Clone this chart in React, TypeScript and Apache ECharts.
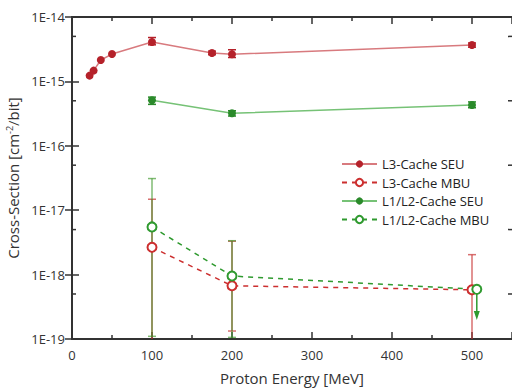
import React, { useEffect, useRef } from 'react';
import * as echarts from 'echarts';

const FONT = '"Open Sans", "DejaVu Sans", sans-serif';

// L3-Cache SEU
const l3SeuX = [22, 27, 36, 50, 100, 175, 200, 500];
const l3SeuY = [1.23e-15, 1.47e-15, 2.15e-15, 2.66e-15, 4.1e-15, 2.76e-15, 2.64e-15, 3.67e-15];
const l3SeuErrX = [100, 175, 200, 500];
const l3SeuErrLo = [3.7e-15, 2.6e-15, 2.35e-15, 3.4e-15];
const l3SeuErrHi = [4.8e-15, 2.95e-15, 3.1e-15, 3.95e-15];

// L3-Cache MBU
const l3MbuX = [100, 200, 500];
const l3MbuY = [2.65e-18, 6.7e-19, 5.8e-19];
const l3MbuErrLo = [5e-20, 1.33e-19, 5e-20];
const l3MbuErrHi = [1.48e-17, 3.3e-18, 2.04e-18];

// L1/L2-Cache SEU
const l12SeuX = [100, 200, 500];
const l12SeuY = [5.1e-16, 3.2e-16, 4.3e-16];
const l12SeuErrLo = [4.4e-16, 2.9e-16, 3.9e-16];
const l12SeuErrHi = [5.7e-16, 3.5e-16, 4.8e-16];

// L1/L2-Cache MBU
const l12MbuX = [100, 200, 506];
const l12MbuY = [5.5e-18, 9.5e-19, 5.9e-19];
const l12MbuErrX = [100, 200];
const l12MbuErrLo = [1.1e-19, 1.06e-19];
const l12MbuErrHi = [3.1e-17, 3.36e-18];
// upper-limit arrow at 506
const l12ArrowX = [506];
const l12ArrowFrom = [5.9e-19];
const l12ArrowTo = [1.97e-19];

const yMinorTicks = [5e-15, 5e-16, 5e-17, 5e-18, 5e-19];
const legendNames = ['L3-Cache SEU', 'L3-Cache MBU', 'L1/L2-Cache SEU', 'L1/L2-Cache MBU'];

const RED = '#b5212a';
const RED_LINE = '#d87a7e';
const RED_DASH = '#cc2f2f';
const GREEN = '#2a8a2a';
const GREEN_LINE = '#76c276';
const GREEN_DASH = '#2f9a2f';
const AXIS = '#333333';

function zip(xs: number[], ys: number[]) {
  return xs.map((x, i) => [x, ys[i]]);
}

function errSeries(name: string, xs: number[], lo: number[], hi: number[], color: string, cap = 4) {
  return {
    name,
    type: 'custom',
    silent: true,
    clip: true,
    z: 1,
    data: xs.map((x, i) => [x, lo[i], hi[i]]),
    encode: { x: 0, y: [1, 2] },
    renderItem: (params: any, api: any) => {
      const x = api.value(0);
      const cs = params.coordSys;
      const a = api.coord([x, api.value(2)]);
      const b = api.coord([x, api.value(1)]);
      const bottom = cs.y + cs.height;
      const style = { stroke: color, lineWidth: 1.5, fill: 'none' };
      const by = Math.min(b[1], bottom);
      const children: any[] = [
        { type: 'line', shape: { x1: a[0], y1: a[1], x2: b[0], y2: by }, style },
        { type: 'line', shape: { x1: a[0] - cap, y1: a[1], x2: a[0] + cap, y2: a[1] }, style },
      ];
      if (b[1] <= bottom) {
        children.push({ type: 'line', shape: { x1: b[0] - cap, y1: b[1], x2: b[0] + cap, y2: b[1] }, style });
      }
      return { type: 'group', children };
    },
  };
}

export default function App() {
  const ref = useRef<HTMLDivElement>(null);
  useEffect(() => {
    if (!ref.current) return;
    const chart = echarts.init(ref.current, null, { renderer: 'svg' });
    const axisLine = { show: true, lineStyle: { color: AXIS, width: 2 } };
    const xCommon = {
      type: 'value',
      min: 0,
      max: 550,
      interval: 100,
      axisLine,
      axisTick: { show: true, inside: true, length: 7, lineStyle: { color: AXIS, width: 1.5 } },
      minorTick: { show: true, splitNumber: 2, length: 4, lineStyle: { color: AXIS, width: 1.5 } },
      splitLine: { show: false },
      minorSplitLine: { show: false },
    };
    const yCommon = {
      type: 'log',
      logBase: 10,
      min: 1e-19,
      max: 1e-14,
      interval: 1,
      axisLine,
      axisTick: { show: true, inside: true, length: 7, lineStyle: { color: AXIS, width: 1.5 } },
      splitLine: { show: false },
    };
    const option: any = {
      animation: false,
      textStyle: { fontFamily: FONT },
      grid: { left: 72, right: 0, top: 17, bottom: 51, containLabel: false, outerBoundsMode: 'none' },
      xAxis: [
        {
          ...xCommon,
          position: 'bottom',
          axisLabel: {
            fontSize: 13,
            color: '#333',
            margin: 9,
            fontFamily: FONT,
            showMaxLabel: false,
            formatter: (v: number) => (v > 500 ? '' : String(v)),
          },
          name: 'Proton Energy [MeV]',
          nameLocation: 'middle',
          nameGap: 31,
          nameTextStyle: { fontSize: 15, color: '#333', fontFamily: FONT },
        },
        { ...xCommon, position: 'top', axisLabel: { show: false } },
      ],
      yAxis: [
        {
          ...yCommon,
          position: 'left',
          axisLabel: {
            fontSize: 13,
            color: '#333',
            margin: 7,
            fontFamily: FONT,
            formatter: (v: number) => '1E' + Math.round(Math.log10(v)),
          },
          name: '{t|Cross-Section [cm}{s|-2}{t|/bit]}',
          nameLocation: 'middle',
          nameGap: 46,
          nameTextStyle: {
            color: '#333',
            rich: {
              t: { fontSize: 15, color: '#333', fontFamily: FONT },
              s: { fontSize: 9, color: '#333', fontFamily: FONT, verticalAlign: 'top' },
            },
          },
        },
        { ...yCommon, position: 'right', axisLabel: { show: false } },
      ],
      legend: {
        data: legendNames,
        orient: 'vertical',
        left: 336,
        top: 152,
        itemWidth: 35,
        itemHeight: 9,
        itemGap: 4.5,
        textStyle: { fontSize: 13, color: '#222', fontFamily: FONT, lineHeight: 14 },
      },
      series: [
        errSeries('e1', l3SeuErrX, l3SeuErrLo, l3SeuErrHi, RED),
        errSeries('e2', l12SeuX, l12SeuErrLo, l12SeuErrHi, GREEN),
        errSeries('e3', l3MbuX, l3MbuErrLo, l3MbuErrHi, 'rgba(200,50,50,0.7)'),
        errSeries('e4', l12MbuErrX, l12MbuErrLo, l12MbuErrHi, 'rgba(60,150,40,0.65)'),
        {
          name: 'arrow',
          type: 'custom',
          silent: true,
          z: 1,
          data: l12ArrowX.map((x, i) => [x, l12ArrowFrom[i], l12ArrowTo[i]]),
          encode: { x: 0, y: [1, 2] },
          renderItem: (params: any, api: any) => {
            const x = api.value(0);
            const a = api.coord([x, api.value(1)]);
            const b = api.coord([x, api.value(2)]);
            return {
              type: 'group',
              children: [
                { type: 'line', shape: { x1: a[0], y1: a[1], x2: b[0], y2: b[1] - 6 }, style: { stroke: GREEN_DASH, lineWidth: 1.5 } },
                { type: 'polygon', shape: { points: [[b[0] - 3, b[1] - 9], [b[0] + 3, b[1] - 9], [b[0], b[1]]] }, style: { fill: GREEN_DASH } },
              ],
            };
          },
        },
        {
          name: 'minor',
          type: 'custom',
          silent: true,
          z: 5,
          data: yMinorTicks.map((v) => [0, v]),
          encode: { x: 0, y: 1 },
          renderItem: (params: any, api: any) => {
            const cs = params.coordSys;
            const y = api.coord([0, api.value(1)])[1];
            const style = { stroke: AXIS, lineWidth: 1.5 };
            return {
              type: 'group',
              children: [
                { type: 'line', shape: { x1: cs.x, y1: y, x2: cs.x + 4, y2: y }, style },
                { type: 'line', shape: { x1: cs.x + cs.width, y1: y, x2: cs.x + cs.width - 4, y2: y }, style },
              ],
            };
          },
        },
        {
          name: legendNames[0],
          type: 'line',
          z: 3,
          data: zip(l3SeuX, l3SeuY),
          symbol: 'circle',
          symbolSize: 8,
          itemStyle: { color: RED },
          lineStyle: { color: RED_LINE, width: 1.5 },
        },
        {
          name: legendNames[1],
          type: 'line',
          z: 3,
          data: zip(l3MbuX, l3MbuY),
          symbol: 'emptyCircle',
          symbolSize: 9,
          itemStyle: { color: RED_DASH, borderWidth: 1.2 },
          lineStyle: { color: RED_DASH, width: 1.5, type: [5, 5] },
        },
        {
          name: legendNames[2],
          type: 'line',
          z: 3,
          data: zip(l12SeuX, l12SeuY),
          symbol: 'circle',
          symbolSize: 8,
          itemStyle: { color: GREEN },
          lineStyle: { color: GREEN_LINE, width: 1.5 },
        },
        {
          name: legendNames[3],
          type: 'line',
          z: 3,
          data: zip(l12MbuX, l12MbuY),
          symbol: 'emptyCircle',
          symbolSize: 9,
          itemStyle: { color: GREEN_DASH, borderWidth: 1.2 },
          lineStyle: { color: GREEN_DASH, width: 1.5, type: [5, 5] },
        },
      ],
    };
    chart.setOption(option);
    return () => chart.dispose();
  }, []);
  return <div ref={ref} style={{ width: 512, height: 390, position: 'absolute', left: 0, top: 0 }} />;
}
